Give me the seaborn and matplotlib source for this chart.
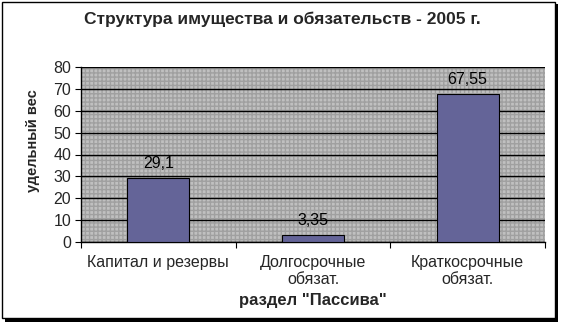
import matplotlib
matplotlib.use("Agg")
import matplotlib.pyplot as plt
import seaborn as sns
import pandas as pd
from matplotlib.patches import Rectangle

categories = ["Капитал и резервы", "Долгосрочные\nобязат.", "Краткосрочные\nобязат."]
values = [29.1, 3.35, 67.55]
value_labels = ["29,1", "3,35", "67,55"]
yticks = [0, 10, 20, 30, 40, 50, 60, 70, 80]

sns.set_style("white")
plt.rcParams['font.family'] = ['Liberation Sans', 'DejaVu Sans']

df = pd.DataFrame({"cat": categories, "val": values})

fig = plt.figure(figsize=(5.64, 3.3), dpi=100)
# outer frame with shadow
fig.patches.append(Rectangle((5/564, 1 - 322/330), 553/564, 318/330, transform=fig.transFigure,
                             facecolor='black', edgecolor='none', zorder=-3))
fig.patches.append(Rectangle((2/564, 1 - 318/330), 553/564, 316/330, transform=fig.transFigure,
                             facecolor='white', edgecolor='black', linewidth=1, zorder=-2))

ax = fig.add_axes([81/564, 88/330, 464/564, 175/330])
ax.set_facecolor('#c0c0c0')
ax.add_patch(Rectangle((0, 0), 1, 1, transform=ax.transAxes, facecolor='none',
                       edgecolor='#a0a0a0', hatch='++++', linewidth=0, zorder=0))
sns.barplot(data=df, x="cat", y="val", ax=ax, color='#646498', width=0.4,
            edgecolor='black', linewidth=0.8, saturation=1, zorder=3)
ax.set_ylim(0, 80)
ax.set_xlim(-0.5, 2.5)
ax.set_yticks(yticks)
ax.yaxis.grid(True, color='black', linewidth=1)
ax.set_axisbelow(True)
for s in ['top', 'right']:
    ax.spines[s].set_visible(False)
ax.spines['left'].set_color('black')
ax.spines['bottom'].set_color('black')
ax.spines['left'].set_linewidth(1)
ax.spines['bottom'].set_linewidth(1)

ax.bar_label(ax.containers[0], labels=value_labels, padding=5, fontsize=11.5, color='black')

# category ticks at boundaries
ax.set_xticks([-0.5, 0.5, 1.5, 2.5], minor=False)
ax.set_xticklabels([])
ax.set_xticks([0, 1, 2], minor=True)
ax.set_xticklabels(categories, minor=True, fontsize=11.5)
ax.tick_params(axis='x', which='major', length=4, direction='out', color='black', bottom=True)
ax.tick_params(axis='x', which='minor', length=0, pad=9, bottom=True)
ax.tick_params(axis='y', length=4, direction='out', color='black', labelsize=11.5, left=True, pad=3)

ax.set_xlabel('раздел "Пассива"', fontsize=12, fontweight='bold')
ax.xaxis.set_label_coords(0.5, -(300 - 242) / 175)
ax.xaxis.label.set_va('center')
ax.set_ylabel('удельный вес', fontsize=10.5, fontweight='bold')
ax.yaxis.set_label_coords(-(81 - 33) / 464, (242 - 141) / 175)
ax.yaxis.label.set_va('center')
fig.text(0.5, 1 - 19/330, 'Структура имущества и обязательств - 2005 г.', ha='center', va='center',
         fontsize=12.5, fontweight='bold')

fig.savefig("out.png", dpi=100)
